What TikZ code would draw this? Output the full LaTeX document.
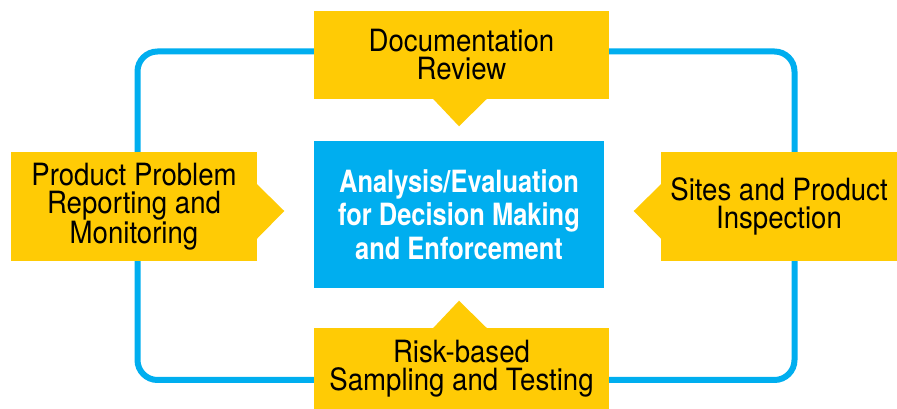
\documentclass[tikz,border=0pt]{standalone}
\usepackage{fontspec}
\newfontfamily\boxfont{TeX Gyre Heros}[FakeStretch=0.90]
\newfontfamily\hubfont{TeX Gyre Heros}[FakeStretch=0.83]
\usetikzlibrary{calc}
\definecolor{fdayellow}{RGB}{255,203,5}
\definecolor{fdablue}{RGB}{0,174,239}

\begin{document}
\begin{tikzpicture}[x=0.75pt,y=0.75pt,yscale=-1,xscale=1,
  stepbox/.style={fill=fdayellow, inner sep=0pt, align=center, font=\boxfont\fontsize{23}{21}\selectfont},
  hubbox/.style={fill=fdablue, text=white, inner sep=0pt, align=center, font=\hubfont\bfseries\fontsize{23}{25}\selectfont},
  cycleline/.style={draw=fdablue, line width=4.5pt, rounded corners=15pt},
  pointer/.style={fill=fdayellow}]
\useasboundingbox (0,0) rectangle (897,409);

%Rounded Rect: loop behind the boxes
\coordinate (loopnw) at (137.5,51.5);
\coordinate (loopse) at (794.5,380);
\draw [cycleline] (loopnw) rectangle (loopse);

%Shape: Rectangle (centre)
\node [hubbox, minimum width=217.5pt, minimum height=110.25pt] (analysis) at (459,214.5) {Analysis/Evaluation\\for Decision Making\\and Enforcement};

% Text Node
\node [stepbox, minimum width=221.25pt, minimum height=66pt] (doc) at (461.5,55) {Documentation\\Review};
% Text Node
\node [stepbox, minimum width=184.5pt, minimum height=81.75pt] (report) at (134,206.5) {Product Problem\\Reporting and\\Monitoring};
% Text Node
\node [stepbox, minimum width=177pt, minimum height=81.75pt] (inspect) at (779,206.5) {Sites and Product\\Inspection};
% Text Node
\node [stepbox, minimum width=221.25pt, minimum height=60.75pt] (risk) at (461.5,368.5) {Risk-based\\Sampling and Testing};

%Pointers towards the centre
\fill [pointer] ($(doc.south)+(-28.5,-0.5)$) -- ($(doc.south)+(25.5,-0.5)$) -- ($(doc.south)+(-2.5,27)$) -- cycle;
\fill [pointer] ($(risk.north)+(-28.5,0.5)$) -- ($(risk.north)+(25.5,0.5)$) -- ($(risk.north)+(-2.5,-27)$) -- cycle;
\fill [pointer] ($(report.east)+(-0.5,-22.5)$) -- ($(report.east)+(-0.5,32.5)$) -- ($(report.east)+(27,4.5)$) -- cycle;
\fill [pointer] ($(inspect.west)+(0.5,-22.5)$) -- ($(inspect.west)+(0.5,32.5)$) -- ($(inspect.west)+(-27,4.5)$) -- cycle;

\end{tikzpicture}
\end{document}
